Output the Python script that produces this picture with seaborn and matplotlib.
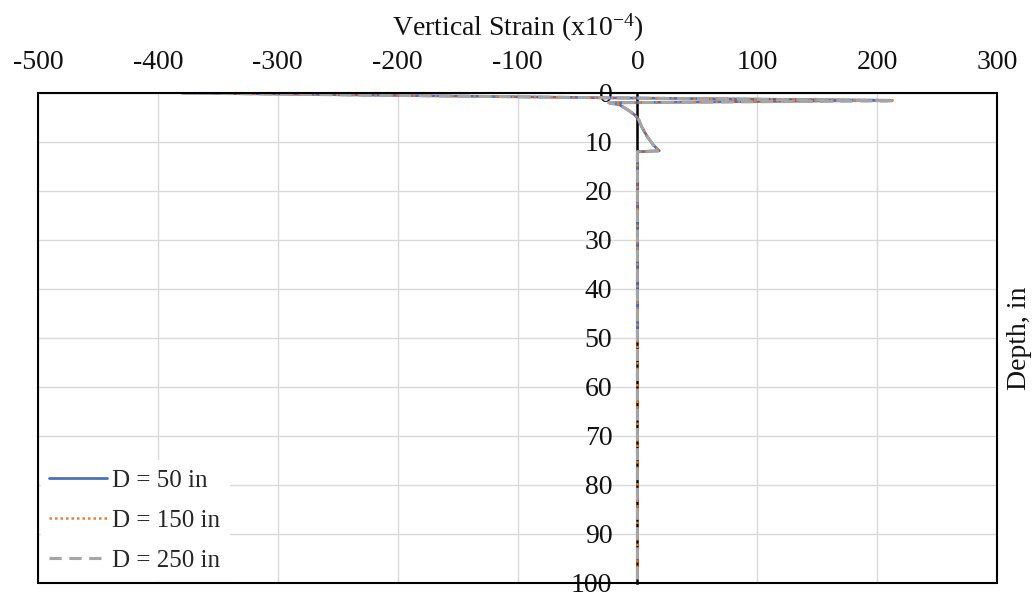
import matplotlib
matplotlib.use("Agg")
import matplotlib.pyplot as plt
from matplotlib.patches import Rectangle
import seaborn as sns
import pandas as pd

sns.set_theme(style="white")
plt.rcParams["font.family"] = ["Liberation Serif", "DejaVu Serif"]
plt.rcParams["mathtext.fontset"] = "custom"
plt.rcParams["mathtext.rm"] = "Liberation Serif"

# Strain profiles (x10^-4) against depth (in) for three embedment depths D
depth_50 = [0, 1.0, 1.5, 2.0, 2.45, 3.5, 4.5, 5.5, 6.9, 8.9, 10.6, 11.8, 12.0, 15, 20, 30, 40, 50]
strain_50 = [-378, -20, 211, -23, -14.6, -7.6, -2.1, 1.2, 3.5, 8.2, 13.2, 18.2, 0, 0, 0, 0, 0, 0]

depth_150 = [0, 1.0, 1.5, 2.0, 2.45, 3.5, 4.5, 5.5, 6.9, 8.9, 10.6, 11.8, 12.0, 15, 20, 40, 60, 80, 100]
strain_150 = [-380, -20, 213, -23, -14.6, -7.6, -2.1, 1.2, 3.5, 8.2, 13.2, 18.2, 0, 0, 0, 0, 0, 0, 0]

depth_250 = [0, 1.0, 1.6, 2.0, 2.45, 3.5, 4.5, 5.5, 6.9, 8.9, 10.6, 11.8, 12.0, 15, 20, 40, 60, 80, 100]
strain_250 = [-381, -21, 214, -24, -14.8, -7.7, -2.2, 1.2, 3.6, 8.3, 13.3, 18.4, 0, 0, 0, 0, 0, 0, 0]

series_labels = ["D = 50 in", "D = 150 in", "D = 250 in"]
series_colors = ["#4472C4", "#ED7D31", "#A5A5A5"]

x_ticks = [-500, -400, -300, -200, -100, 0, 100, 200, 300]
y_ticks = [0, 10, 20, 30, 40, 50, 60, 70, 80, 90, 100]

fig = plt.figure(figsize=(10.36, 5.93), dpi=100)
ax = fig.add_axes([0.0367, 0.0169, 0.9257, 0.8263])

profiles = [(strain_50, depth_50), (strain_150, depth_150), (strain_250, depth_250)]
styles = [dict(linestyle="-", linewidth=2.0),
          dict(linestyle=(0, (1, 1.2)), linewidth=1.8),
          dict(linestyle=(0, (4, 2.5)), linewidth=2.2)]

for (sx, sy), lab, col, st in zip(profiles, series_labels, series_colors, styles):
    df = pd.DataFrame({"strain": sx, "depth": sy})
    sns.lineplot(data=df, x="strain", y="depth", sort=False, estimator=None,
                 color=col, label=lab, ax=ax, zorder=3, **st)

ax.set_xlim(-500, 300)
ax.set_ylim(100, 0)
ax.set_xticks(x_ticks)
ax.set_yticks(y_ticks)
ax.set_xticklabels([str(v) for v in x_ticks])
ax.set_yticklabels([str(v) for v in y_ticks])

ax.grid(True, color="#D9D9D9", linewidth=1.0, zorder=0)
ax.set_axisbelow(True)

# x axis on top, y axis crossing at zero strain
ax.xaxis.tick_top()
ax.xaxis.set_label_position("top")
ax.tick_params(axis="x", length=0, pad=13, labelsize=20, colors="#111111")
ax.tick_params(axis="y", length=0, pad=18, labelsize=20, colors="#111111")
for s in ["top", "right", "bottom"]:
    ax.spines[s].set_visible(False)
ax.spines["left"].set_position(("data", 0))
ax.spines["left"].set_color("black")
ax.spines["left"].set_linewidth(1.8)
ax.spines["left"].set_zorder(2.5)
for lbl in ax.get_yticklabels():
    lbl.set_zorder(5)

frame = Rectangle((0, 0), 1, 1, transform=ax.transAxes, fill=False,
                  edgecolor="black", linewidth=1.5, clip_on=False, zorder=4)
ax.add_patch(frame)

ax.set_xlabel(r"Vertical Strain (x10$\mathregular{^{-4}}$)", fontsize=20,
              labelpad=10, color="#111111")
ax.set_ylabel("")
fig.text(0.984, 0.43, "Depth, in", rotation=90, ha="center", va="center",
         fontsize=20, color="#111111")

leg = ax.legend(loc="lower left", frameon=True, fontsize=18, handlelength=2.3,
                handletextpad=0.2, labelspacing=0.7, borderaxespad=0.1,
                borderpad=0.35)
leg.get_frame().set_edgecolor("white")
leg.get_frame().set_facecolor("white")
leg.get_frame().set_alpha(1.0)
leg.get_frame().set_boxstyle("square", pad=0)

fig.savefig("out.png", dpi=100)
